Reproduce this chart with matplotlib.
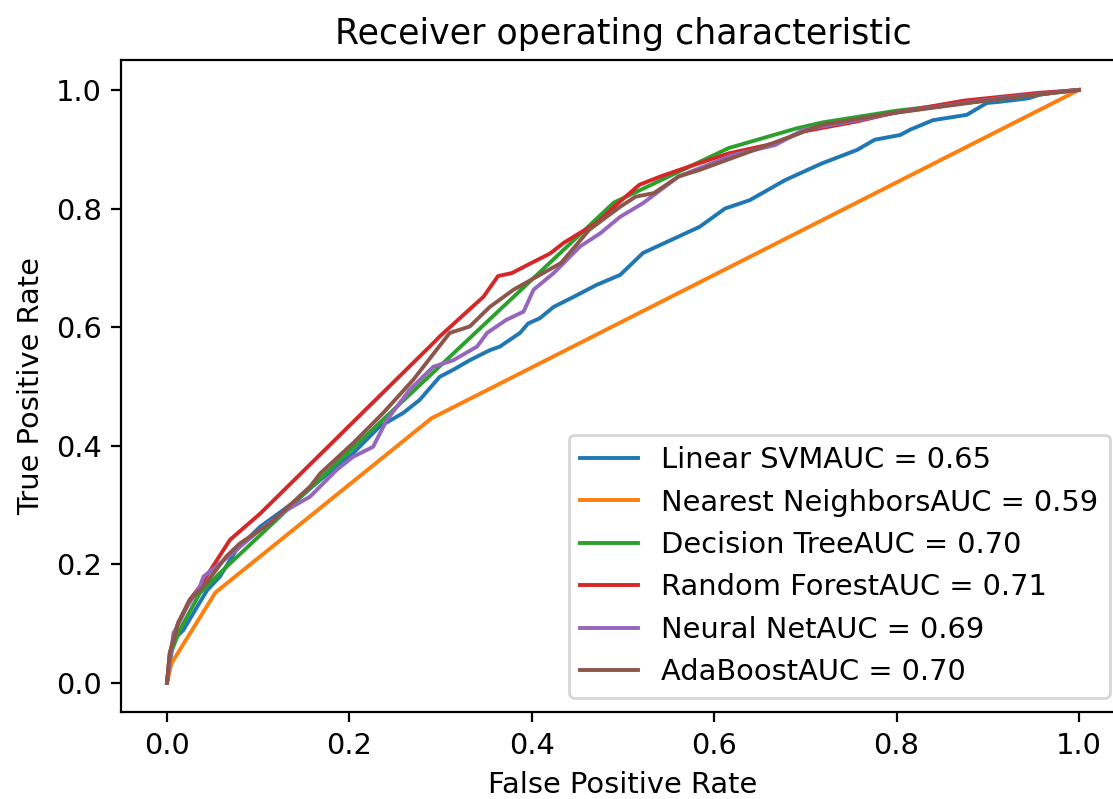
import matplotlib
matplotlib.use("Agg")
import matplotlib.pyplot as plt

# namn och AUC for varje modell
names = ["Linear SVM", "Nearest Neighbors", "Decision Tree",
         "Random Forest", "Neural Net", "AdaBoost"]
aucs = [0.65, 0.59, 0.70, 0.71, 0.69, 0.70]

# ROC-punkter (fpr, tpr) avlasta fran bilden
svm_fpr = [0.0, 0.007, 0.018, 0.033, 0.044, 0.058, 0.076, 0.102, 0.138, 0.168,
           0.204, 0.233, 0.259, 0.277, 0.299, 0.314, 0.332, 0.354, 0.365, 0.387,
           0.396, 0.409, 0.424, 0.446, 0.471, 0.497, 0.522, 0.584, 0.612, 0.639,
           0.678, 0.718, 0.757, 0.776, 0.804, 0.815, 0.840, 0.877, 0.899, 0.913,
           0.945, 0.957, 0.979, 1.0]
svm_tpr = [0.0, 0.072, 0.089, 0.128, 0.156, 0.179, 0.224, 0.263, 0.303, 0.342,
           0.387, 0.432, 0.455, 0.477, 0.516, 0.528, 0.544, 0.561, 0.567, 0.590,
           0.606, 0.615, 0.634, 0.651, 0.671, 0.688, 0.725, 0.769, 0.800, 0.814,
           0.848, 0.876, 0.899, 0.916, 0.924, 0.933, 0.949, 0.958, 0.978, 0.980,
           0.986, 0.992, 0.997, 1.0]

knn_fpr = [0.0, 0.005, 0.053, 0.290, 1.0]
knn_tpr = [0.0, 0.033, 0.152, 0.446, 1.0]

tree_fpr = [0.0, 0.003, 0.014, 0.036, 0.058, 0.490, 0.616, 0.690, 0.718, 0.800, 1.0]
tree_tpr = [0.0, 0.045, 0.089, 0.151, 0.185, 0.810, 0.902, 0.935, 0.945, 0.965, 1.0]

rf_fpr = [0.0, 0.003, 0.012, 0.025, 0.036, 0.069, 0.102, 0.292, 0.299, 0.329,
          0.347, 0.363, 0.378, 0.402, 0.420, 0.435, 0.453, 0.471, 0.494, 0.518,
          0.541, 0.573, 0.616, 0.667, 0.698, 0.757, 0.796, 0.874, 0.955, 1.0]
rf_tpr = [0.0, 0.050, 0.100, 0.140, 0.162, 0.241, 0.285, 0.573, 0.584, 0.626,
          0.651, 0.686, 0.691, 0.710, 0.724, 0.742, 0.759, 0.775, 0.808, 0.840,
          0.854, 0.871, 0.893, 0.910, 0.930, 0.947, 0.961, 0.982, 0.995, 1.0]

nn_fpr = [0.0, 0.007, 0.022, 0.036, 0.040, 0.058, 0.076, 0.102, 0.131, 0.157,
          0.186, 0.204, 0.226, 0.241, 0.266, 0.292, 0.314, 0.340, 0.351, 0.372,
          0.391, 0.402, 0.424, 0.453, 0.475, 0.497, 0.522, 0.561, 0.620, 0.667,
          0.698, 0.757, 0.804, 0.913, 1.0]
nn_tpr = [0.0, 0.083, 0.128, 0.162, 0.179, 0.201, 0.224, 0.258, 0.291, 0.314,
          0.359, 0.381, 0.398, 0.443, 0.494, 0.533, 0.544, 0.567, 0.590, 0.612,
          0.626, 0.663, 0.691, 0.736, 0.758, 0.786, 0.809, 0.854, 0.890, 0.907,
          0.933, 0.949, 0.963, 0.986, 1.0]

ada_fpr = [0.0, 0.003, 0.012, 0.025, 0.040, 0.065, 0.080, 0.113, 0.157, 0.168,
           0.204, 0.237, 0.270, 0.310, 0.332, 0.354, 0.380, 0.409, 0.432, 0.463,
           0.497, 0.514, 0.534, 0.561, 0.584, 0.639, 0.678, 0.718, 0.796, 0.913, 1.0]
ada_tpr = [0.0, 0.050, 0.100, 0.140, 0.162, 0.213, 0.235, 0.269, 0.331, 0.353,
           0.404, 0.455, 0.511, 0.590, 0.601, 0.634, 0.663, 0.688, 0.708, 0.764,
           0.803, 0.820, 0.826, 0.854, 0.865, 0.896, 0.918, 0.941, 0.961, 0.985, 1.0]

curves = [(svm_fpr, svm_tpr), (knn_fpr, knn_tpr), (tree_fpr, tree_tpr),
          (rf_fpr, rf_tpr), (nn_fpr, nn_tpr), (ada_fpr, ada_tpr)]

plt.rcParams["font.size"] = 10.4
plt.rcParams["lines.linewidth"] = 1.4

dpi = 200
fig = plt.figure(figsize=(1113 / dpi, 799 / dpi), dpi=dpi)
# axeln gar lite utanfor hoger kant, som i originalbilden
ax = fig.add_axes([0.1091, 0.1085, 0.9012, 0.816])

for name, auc, (fpr, tpr) in zip(names, aucs, curves):
    ax.plot(fpr, tpr, label=name + "AUC = %0.2f" % auc)

ax.set_title("Receiver operating characteristic", fontsize=12.5)
ax.set_xlabel("False Positive Rate")
ax.set_ylabel("True Positive Rate")
ax.legend(loc="lower right")

fig.savefig("out.png", dpi=dpi)
